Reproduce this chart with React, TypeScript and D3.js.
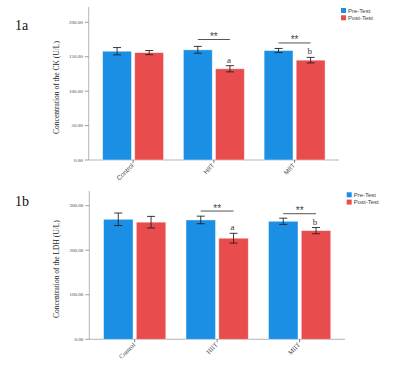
import React from 'react';
import * as d3 from 'd3';

const groups = ['Control', 'HIIT', 'MIIT'];
const series = ['Pre-Test', 'Post-Test'];
const colors = ['#1a8fe3', '#e84c4c'];

// panel 1a - CK
const ckPre = [158, 160, 159];
const ckPost = [156, 132.5, 145];
const ckPreErr = [5.3, 5, 3];
const ckPostErr = [3, 4.5, 4];
const ckTicks = [0, 50, 100, 150, 200];
const ckSig = [null, 175, 170];
const ckLetters = ['', 'a', 'b'];

// panel 1b - LDH
const ldhPre = [269.5, 268, 265];
const ldhPost = [263, 227, 244];
const ldhPreErr = [14, 8.5, 7];
const ldhPostErr = [13, 11, 7];
const ldhTicks = [0, 100, 200, 300];
const ldhSig = [null, 288, 282];
const ldhLetters = ['', 'a', 'b'];

const axisColor = '#b5b5b5';

function Panel(props) {
  const { tag, label, pre, post, preErr, postErr, ticks, sig, letters,
    x0, x1, top, base, yMaxTick, yMaxPos, catFont, tagY, legendX, legendY } = props;

  const y = d3.scaleLinear().domain([0, ticks[ticks.length - 1]]).range([base, yMaxPos]);
  const x = d3.scaleBand().domain(groups).range([x0, x1]).paddingInner(0).paddingOuter(0.05);
  const gw = x.bandwidth() * 0.755;
  const xs = d3.scaleBand().domain(series).range([0, gw]).paddingInner(0.1);
  const off = (x.bandwidth() - gw) / 2;
  const vals = [pre, post];
  const errs = [preErr, postErr];
  const cx = (g, s) => x(g) + off + xs(series[s]) + xs.bandwidth() / 2;

  return (
    <g>
      <text x={15} y={tagY} fontFamily="Liberation Serif, serif" fontSize={14} fill="#111">{tag}</text>
      {/* axes */}
      <line x1={x0} x2={x0} y1={top} y2={base} stroke={axisColor} />
      <line x1={x0} x2={x1} y1={base} y2={base} stroke={axisColor} />
      {ticks.map(t => (
        <g key={t}>
          <line x1={x0 - 4} x2={x0} y1={y(t)} y2={y(t)} stroke="#888" strokeWidth={0.8} />
          <text x={x0 - 6} y={y(t) + 1.7} textAnchor="end" fontSize={5} fontFamily="Liberation Serif, serif" fill="#444">
            {d3.format('.2f')(t)}
          </text>
        </g>
      ))}
      <text transform={`translate(59,${(top + base) / 2 + 4}) rotate(-90)`} textAnchor="middle"
        fontFamily="Liberation Serif, serif" fontSize={7.5} fill="#222">{label}</text>

      {/* bars */}
      {groups.map((g, gi) => series.map((s, si) => (
        <rect key={g + s} x={x(g) + off + xs(s)} y={y(vals[si][gi])} width={xs.bandwidth()}
          height={base - y(vals[si][gi])} fill={colors[si]} stroke="rgba(255,255,255,0.55)" strokeWidth={0.8} />
      )))}
      {/* error bars */}
      {groups.map((g, gi) => series.map((s, si) => {
        const c = cx(g, si);
        const hi = y(vals[si][gi] + errs[si][gi]);
        const lo = y(vals[si][gi] - errs[si][gi]);
        return (
          <g key={'e' + g + s} stroke="#222" strokeWidth={0.9}>
            <line x1={c} x2={c} y1={hi} y2={lo} />
            <line x1={c - 4} x2={c + 4} y1={hi} y2={hi} />
            <line x1={c - 4} x2={c + 4} y1={lo} y2={lo} />
          </g>
        );
      }))}
      {/* x ticks + labels */}
      {groups.map(g => {
        const c = x(g) + x.bandwidth() / 2;
        return (
          <g key={'t' + g}>
            <line x1={c} x2={c} y1={base} y2={base + 3} stroke="#666" strokeWidth={0.8} />
            <text transform={`translate(${c + 1},${base + 6}) rotate(-45)`} textAnchor="end"
              fontFamily={catFont} fontSize={6.5} fill="#444">{g}</text>
          </g>
        );
      })}
      {/* significance */}
      {groups.map((g, gi) => {
        if (sig[gi] == null) return null;
        const a = cx(g, 0), b = cx(g, 1), ly = y(sig[gi]);
        return (
          <g key={'s' + g}>
            <line x1={a} x2={b} y1={ly} y2={ly} stroke="#555" strokeWidth={1} />
            <text x={(a + b) / 2} y={ly + 0.5} textAnchor="middle" fontFamily="Liberation Sans, sans-serif"
              fontSize={10} fill="#444">**</text>
          </g>
        );
      })}
      {groups.map((g, gi) => letters[gi] ? (
        <text key={'l' + g} x={cx(g, 1) - 1} y={y(post[gi] + postErr[gi]) - 3} textAnchor="middle"
          fontFamily="Liberation Serif, serif" fontSize={9} fill="#333">{letters[gi]}</text>
      ) : null)}
      {/* legend */}
      {series.map((s, si) => (
        <g key={'lg' + s}>
          <rect x={legendX} y={legendY + si * 7.3} width={5} height={5} fill={colors[si]} />
          <text x={legendX + 7} y={legendY + si * 7.3 + 4.6} fontFamily="Liberation Sans, sans-serif"
            fontSize={6} fill="#444">{s}</text>
        </g>
      ))}
    </g>
  );
}

export default function App() {
  return (
    <svg width={418} height={370} style={{ position: 'absolute', left: 0, top: 0 }}>
      <rect width={418} height={370} fill="#fff" />
      <Panel tag="1a" label="Concentration of the CK (U/L)" pre={ckPre} post={ckPost}
        preErr={ckPreErr} postErr={ckPostErr} ticks={ckTicks} sig={ckSig} letters={ckLetters}
        x0={88.7} x1={339} top={7} base={160} yMaxPos={22.3} catFont="Liberation Sans, sans-serif"
        tagY={30} legendX={341} legendY={8} />
      <Panel tag="1b" label="Concentration of the LDH (U/L)" pre={ldhPre} post={ldhPost}
        preErr={ldhPreErr} postErr={ldhPostErr} ticks={ldhTicks} sig={ldhSig} letters={ldhLetters}
        x0={89.3} x1={345} top={191} base={339.3} yMaxPos={205.7} catFont="Liberation Serif, serif"
        tagY={205.5} legendX={346.7} legendY={192.3} />
    </svg>
  );
}
